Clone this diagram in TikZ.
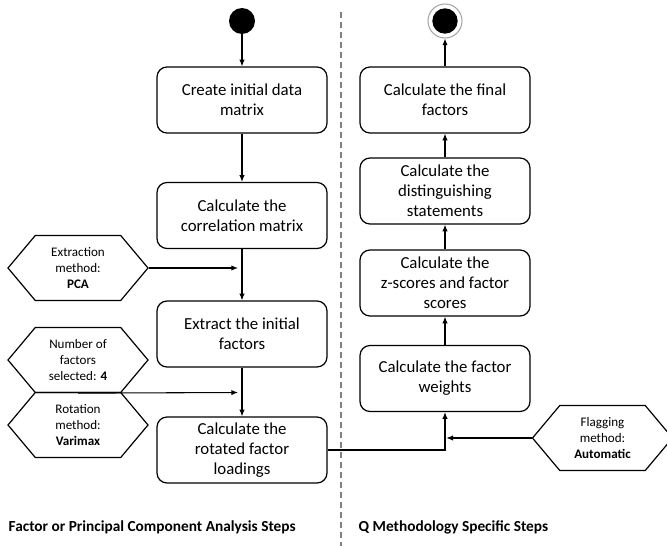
\documentclass[tikz,border=0pt]{standalone}
\usepackage{fontspec}
\setmainfont{Carlito}
\usetikzlibrary{arrows.meta,shapes.symbols}

\begin{document}
\begin{tikzpicture}[x=0.75pt, y=-0.75pt, > = {Latex[length=5pt,width=4pt]},
    step box/.style = {draw, line width=0.9pt, rounded corners=7.5pt, align=center, minimum width=127.5pt, minimum height=49.5pt, font=\fontsize{12.6}{15}\selectfont},
    param/.style = {draw, line width=0.9pt, signal, signal to=west and east, signal pointer angle=100, align=center, minimum width=105pt, minimum height=48.75pt, inner sep=1pt, font=\fontsize{9.8}{12}\selectfont},
    flow/.style = {->, line width=0.8pt},
    lane/.style = {font=\bfseries\fontsize{11.5}{13}\selectfont, anchor=west}]

    \useasboundingbox (0,0) rectangle (667,546);

    % swimlane divider
    \draw[gray, line width=0.8pt, dash pattern=on 4.5pt off 3pt] (341,12) -- (341,546);

    % factor analysis steps
    \node (start) [circle, fill=black, minimum size=19.5pt, inner sep=0pt] at (242,21) {};
    \node (data) [step box] at (242,100) {Create initial data\\matrix};
    \node (corr) [step box] at (242,215.5) {Calculate the\\correlation matrix};
    \node (extr) [step box] at (242,334) {Extract the initial\\factors};
    \node (rot) [step box] at (242,450) {Calculate the\\rotated factor\\loadings};

    % parameters
    \node (pca) [param] at (78,268) {Extraction\\method:\\\textbf{PCA}};
    \node (num) [param] at (78,360) {Number of\\factors\\selected: \textbf{4}};
    \node (vmx) [param] at (78,425) {Rotation\\method:\\\textbf{Varimax}};
    \node (flag) [param] at (602.5,438) {Flagging\\method:\\\textbf{Automatic}};

    % Q methodology steps
    \node (end) [circle, draw=gray!70, line width=0.8pt, minimum size=25.5pt, inner sep=0pt] at (445,21) {};
    \fill (end.center) circle (9.5pt);
    \node (final) [step box] at (445,100) {Calculate the final\\factors};
    \node (dist) [step box] at (445,191) {Calculate the\\distinguishing\\statements};
    \node (zsc) [step box] at (445,283) {Calculate the\\z-scores and factor\\scores};
    \node (wgt) [step box] at (445,378.5) {Calculate the factor\\weights};

    % junctions
    \coordinate (j1) at (242,268);
    \coordinate (j2) at (242,392.5);
    \coordinate (j3) at (445,438);

    % flows
    \draw[flow] (start) -- (data);
    \draw[flow] (data) -- (corr);
    \draw[flow] (corr) -- (extr);
    \draw[flow] (extr) -- (rot);
    \draw[flow, shorten >=3pt] (pca.east) -- (j1);
    \draw[flow, shorten >=3pt] (num.south) -- (j2);
    \draw[flow] (rot.east) -| (wgt.south);
    \draw[flow, shorten >=1pt] (flag.west) -- (j3);
    \draw[flow] (wgt) -- (zsc);
    \draw[flow] (zsc) -- (dist);
    \draw[flow] (dist) -- (final);
    \draw[flow] (final) -- (end);

    % lane titles
    \node (lft) [lane] at (4,527) {Factor or Principal Component Analysis Steps};
    \node (rgt) [lane] at (354,527) {Q Methodology Specific Steps};

\end{tikzpicture}
\end{document}
